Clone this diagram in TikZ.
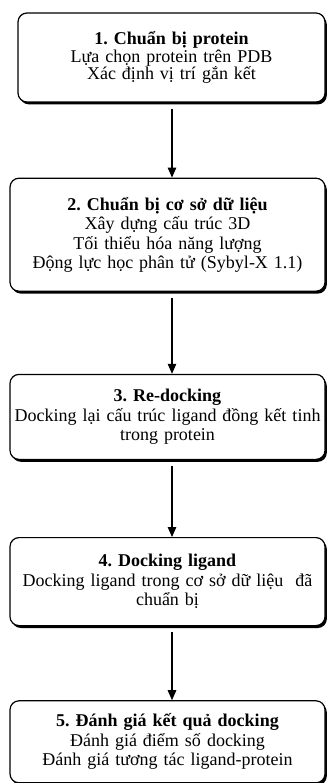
\documentclass[tikz,border=0pt]{standalone}
\usepackage{fontspec}
\setmainfont{Liberation Serif}
\usetikzlibrary{positioning, shadows, arrows.meta}
\frenchspacing

\tikzset{
    stepbox/.style={draw, line width=1.2pt, rounded corners=9pt, fill=white,
        drop shadow={shadow xshift=1.8pt, shadow yshift=-2.4pt, fill=black, opacity=1},
        minimum width=315pt, text width=312pt, align=center, inner sep=0pt,
        font=\fontsize{18}{19.5}\selectfont},
    flow/.style={line width=1.2pt, -{Triangle[width=8.5pt,length=10pt]}, shorten <=6pt}
}

\begin{document}
\begin{tikzpicture}[x=1pt, y=1pt]
        \useasboundingbox (0,0) rectangle (332,-783);
        \coordinate (ax) at (172,0);
        % steps
        \node[stepbox, minimum width=307pt, text width=304pt, minimum height=89pt,
            font=\fontsize{18}{17.5}\selectfont] (prep) at (171.5,-57.5)
            {\textbf{1. Chuẩn bị protein}\\Lựa chọn protein trên PDB\\Xác định vị trí gắn kết};
        \node[stepbox, minimum height=113pt, below=75pt of prep, xshift=-4pt] (db)
            {\textbf{2. Chuẩn bị cơ sở dữ liệu}\\Xây dựng cấu trúc 3D\\Tối thiểu hóa năng lượng\\Động lực học phân tử (Sybyl-X 1.1)};
        \node[stepbox, minimum height=85pt, below=82pt of db] (redock)
            {\textbf{3. Re-docking}\\Docking lại cấu trúc ligand đồng kết tinh\\trong protein};
        \node[stepbox, minimum height=88pt, below=77pt of redock] (dock)
            {\textbf{4. Docking ligand}\\Docking ligand trong cơ sở dữ liệu\ \ đã\\chuẩn bị};
        \node[stepbox, minimum height=82pt, below=74pt of dock] (eval)
            {\textbf{5. Đánh giá kết quả docking}\\Đánh giá điểm số docking\\Đánh giá tương tác ligand-protein};
        % arrows
        \draw[flow] (prep.south -| ax) -- (db.north -| ax);
        \draw[flow] (db.south -| ax) -- (redock.north -| ax);
        \draw[flow] (redock.south -| ax) -- (dock.north -| ax);
        \draw[flow] (dock.south -| ax) -- (eval.north -| ax);
\end{tikzpicture}
\end{document}
